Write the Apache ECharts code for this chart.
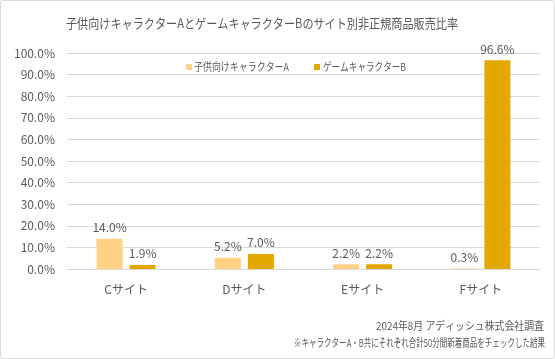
<!DOCTYPE html>
<html><head><meta charset="utf-8">
<script src="https://cdn.jsdelivr.net/npm/echarts@6/dist/echarts.min.js"></script>
<style>
html,body{margin:0;padding:0;background:#fff;}
#wrap{position:absolute;left:0;top:0;width:553px;height:357px;border:1px solid #d9d9d9;border-radius:3px;}
#c{width:553px;height:357px;}
</style></head><body>
<div id="wrap"><div id="c"></div></div>
<script>
const categories = ['Cサイト','Dサイト','Eサイト','Fサイト'];
const seriesNames = ['子供向けキャラクターA','ゲームキャラクターB'];
const valuesA = [14.0, 5.2, 2.2, 0.3];
const valuesB = [1.9, 7.0, 2.2, 96.6];
const titleText = '子供向けキャラクターAとゲームキャラクターBのサイト別非正規商品販売比率';
const notes = ['2024年8月 アディッシュ株式会社調査','※キャラクターA・B共にそれぞれ合計50分間新着商品をチェックした結果'];

const font = "'Noto Sans CJK JP', 'Noto Sans', sans-serif";
const txt = '#595959';
const colors = ['#FFD185', '#E3A800'];
const mctx = document.createElement('canvas').getContext('2d');
function fit(text, size, width){ mctx.font = size + 'px ' + font; return Math.min(1, width / mctx.measureText(text).width); }
function stext(text, x, y, size, width, align){
  const s = fit(text, size, width);
  return {type:'text', x:x, y:y, scaleX:s, originX:0, originY:0,
    style:{text:text, fill:txt, fontSize:size, fontFamily:font, align:align, verticalAlign:'middle'}};
}

const chart = echarts.init(document.getElementById('c'));
const labelCfg = {show:true, position:'top', color:txt, fontSize:12, fontFamily:font, formatter: p => p.value.toFixed(1)+'%'};
chart.setOption({
  animation:false,
  textStyle:{fontFamily:font},
  legend:{show:false, data:seriesNames},
  grid:{left:66, right:14, top:52, bottom:89, containLabel:false},
  xAxis:{type:'category', data:categories, axisLine:{lineStyle:{color:'#d9d9d9'}}, axisTick:{show:false},
    axisLabel:{color:txt, fontSize:12, fontFamily:font, margin:14}},
  yAxis:{type:'value', min:0, max:100, interval:10, axisLine:{show:false}, axisTick:{show:false},
    splitLine:{lineStyle:{color:'#d9d9d9'}},
    axisLabel:{color:txt, fontSize:12, fontFamily:font, margin:12, formatter: v => v.toFixed(1)+'%'}},
  graphic:[
    stext(titleText, 65, 22, 13, 392, 'left'),
    {type:'rect', shape:{x:185, y:63, width:6, height:6}, style:{fill:colors[0]}},
    stext(seriesNames[0], 193, 66, 11, 95, 'left'),
    {type:'rect', shape:{x:313, y:63, width:6, height:6}, style:{fill:colors[1]}},
    stext(seriesNames[1], 322, 66, 11, 83, 'left'),
    stext(notes[0], 543, 325, 11, 168, 'right'),
    stext(notes[1], 544, 342, 11, 251, 'right')
  ],
  series:[
    {name:seriesNames[0], type:'bar', data:valuesA, barWidth:'22%', barGap:'27%', itemStyle:{color:colors[0]}, label:labelCfg},
    {name:seriesNames[1], type:'bar', data:valuesB, barWidth:'22%', barGap:'27%', itemStyle:{color:colors[1]}, label:labelCfg}
  ]
});
</script></body></html>
